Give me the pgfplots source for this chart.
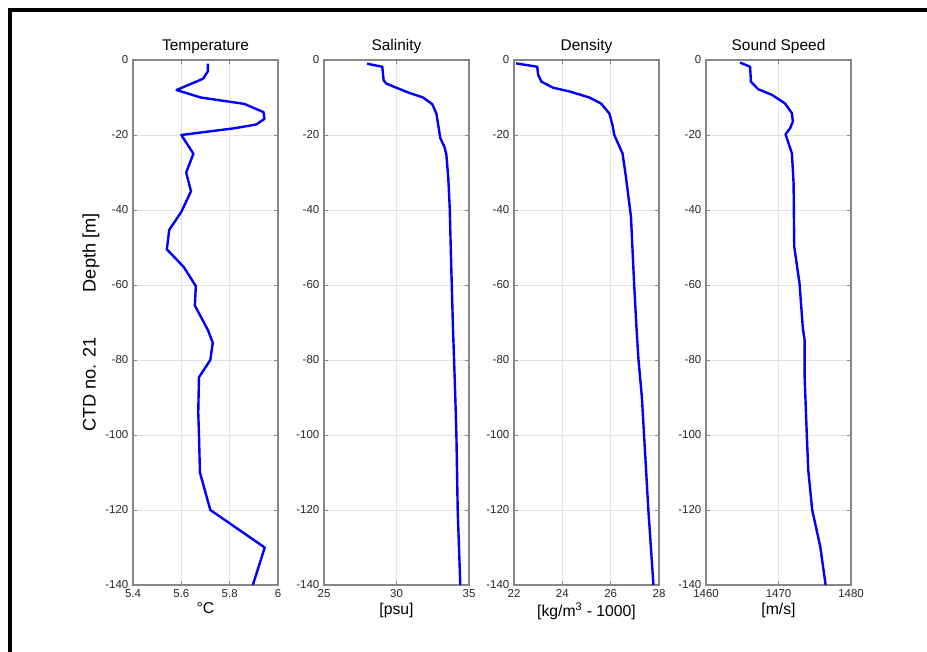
\documentclass[border=0pt]{standalone}
\usepackage{fontspec}
\setmainfont{Liberation Sans}
\usepackage{pgfplots}
\pgfplotsset{compat=1.18}

\definecolor{ctdline}{RGB}{22,22,180}
\definecolor{boxgray}{RGB}{135,135,135}
\definecolor{gridgray}{RGB}{228,228,228}

\pgfplotsset{
  ctd/.style={
    scale only axis,
    width=108.75pt, height=393.75pt,
    anchor=south west,
    ymin=-140, ymax=0,
    ytick={-140,-120,...,0},
    grid=major,
    grid style={gridgray, line width=0.6pt},
    axis line style={boxgray, line width=0.8pt},
    tick style={boxgray, line width=0.6pt},
    major tick length=3pt,
    tick align=inside,
    no markers,
    /pgf/number format/assume math mode=true,
    /pgf/number format/1000 sep={},
    ticklabel style={font=\fontsize{8.6}{9.6}\selectfont, text=black!85},
    title style={font=\fontsize{11.6}{13}\selectfont, yshift=-4.5pt},
    xlabel style={font=\fontsize{11.8}{13}\selectfont, yshift=3pt},
    every axis plot/.append style={ctdline, line width=1.8pt, line join=round},
  }
}

\begin{document}
\begin{tikzpicture}
\useasboundingbox (0,0) rectangle (695.25pt,489pt);
\fill[black] (6pt,0) rectangle (9pt,483pt);
\fill[black] (6pt,480pt) rectangle (695.25pt,483pt);

% Temperature
\begin{axis}[ctd, at={(99.75pt,50.25pt)},
  title={Temperature}, xlabel={°C},
  xmin=5.4, xmax=6, xtick={5.4,5.6,5.8,6},
  ylabel={CTD no. 21\hspace{33.75pt}Depth [m]},
  ylabel style={font=\fontsize{13.6}{15}\selectfont, at={(axis description cs:-0.29,0.5)}, anchor=center},
]
\addplot coordinates {
 (5.71,-1) (5.71,-3) (5.69,-5) (5.58,-8) (5.68,-10) (5.86,-11.7) (5.94,-13.9)
 (5.944,-15.7) (5.91,-17.2) (5.82,-18.2) (5.60,-20) (5.65,-25) (5.62,-30)
 (5.64,-35) (5.60,-40.5) (5.55,-45.3) (5.54,-50.5) (5.61,-55.2) (5.66,-60.3)
 (5.656,-65.5) (5.71,-72) (5.73,-75.4) (5.72,-80) (5.673,-84.6) (5.67,-94)
 (5.673,-100) (5.677,-110) (5.72,-120) (5.945,-130) (5.896,-140)
};
\end{axis}

% Salinity
\begin{axis}[ctd, at={(243pt,50.25pt)},
  title={Salinity}, xlabel={[psu]},
  xmin=25, xmax=35, xtick={25,30,35},
]
\addplot coordinates {
 (27.97,-1) (29.02,-1.8) (29.11,-5.4) (29.3,-6.3) (29.99,-7.4) (30.9,-8.8)
 (31.83,-10) (32.47,-11.8) (32.75,-14.3) (32.9,-17.9) (33.02,-20.8)
 (33.32,-23.3) (33.44,-25.3) (33.57,-31.4) (33.67,-39.5) (33.78,-55.6)
 (33.9,-72.2) (33.97,-79.8) (34.06,-90.7) (34.13,-99.8) (34.22,-120) (34.40,-140)
};
\end{axis}

% Density
\begin{axis}[ctd, at={(385.5pt,50.25pt)},
  title={Density}, xlabel={[kg/m\textsuperscript{3} - 1000]},
  xmin=22, xmax=28, xtick={22,24,26,28},
]
\addplot coordinates {
 (22.08,-0.9) (22.96,-1.8) (23.0,-4) (23.14,-5.8) (23.62,-7.4) (24.3,-8.4)
 (25.12,-10) (25.6,-11.6) (25.95,-14.3) (26.08,-17.5) (26.15,-20)
 (26.49,-24.9) (26.63,-31.1) (26.84,-41.8) (26.97,-59.6) (27.07,-71.6)
 (27.15,-79.8) (27.29,-89.8) (27.38,-99.8) (27.56,-120) (27.77,-140)
};
\end{axis}

% Sound speed
\begin{axis}[ctd, at={(529.5pt,50.25pt)},
  title={Sound Speed}, xlabel={[m/s]},
  xmin=1460, xmax=1480, xtick={1460,1470,1480},
]
\addplot coordinates {
 (1464.7,-0.7) (1466.08,-1.8) (1466.2,-5.8) (1467.2,-7.8) (1469.1,-9.3)
 (1470.9,-11.6) (1471.85,-14.2) (1471.98,-16.4) (1471.6,-18.2) (1470.97,-19.8)
 (1471.85,-24.9) (1472.08,-32.9) (1472.17,-49.8) (1472.9,-59.6) (1473.36,-71.6)
 (1473.6,-74.7) (1473.6,-84.4) (1473.9,-99.8) (1474.1,-109.3) (1474.65,-120)
 (1475.76,-129.8) (1476.5,-140)
};
\end{axis}
\end{tikzpicture}
\end{document}
